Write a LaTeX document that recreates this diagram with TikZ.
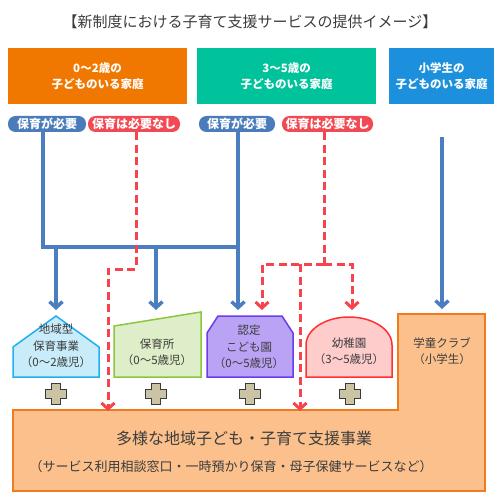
\documentclass[tikz,border=0pt]{standalone}
\usepackage{fontspec}
\setmainfont{Noto Sans CJK JP}
\usetikzlibrary{arrows.meta}

\definecolor{famorange}{RGB}{240,120,0}
\definecolor{famteal}{RGB}{0,195,155}
\definecolor{famblue}{RGB}{28,144,220}
\definecolor{pillblue}{RGB}{74,124,188}
\definecolor{pillred}{RGB}{242,74,84}
\definecolor{lineblue}{RGB}{74,126,192}
\definecolor{linered}{RGB}{245,68,78}
\definecolor{textgray}{RGB}{60,60,60}
\definecolor{houseline}{RGB}{32,176,240}
\definecolor{housefill}{RGB}{200,236,250}
\definecolor{nurseline}{RGB}{140,198,63}
\definecolor{nursefill}{RGB}{222,238,200}
\definecolor{ninteiline}{RGB}{106,60,240}
\definecolor{ninteifill}{RGB}{186,162,245}
\definecolor{kinderline}{RGB}{255,48,48}
\definecolor{kinderfill}{RGB}{255,204,204}
\definecolor{shienline}{RGB}{240,124,30}
\definecolor{shienfill}{RGB}{251,192,140}
\definecolor{plusfill}{RGB}{202,196,164}
\definecolor{plusgray}{RGB}{58,58,58}

\begin{document}
\begin{tikzpicture}[x=1pt,y=-1pt]
      \tikzstyle{family} = [rectangle, minimum height=56pt, inner sep=0pt, text=white, font=\bfseries\fontsize{11.5}{15.5}\selectfont, align=center]
      \tikzstyle{pill} = [rectangle, rounded corners=7.5pt, minimum height=16pt, inner sep=0pt, text=white, font=\bfseries\fontsize{12}{13}\selectfont]
      \tikzstyle{sitetext} = [align=center, text=textgray, font=\fontsize{11.5}{16.5}\selectfont]
      \tikzstyle{blueline} = [draw=lineblue, line width=3.5pt]
      \tikzstyle{redline} = [draw=linered, line width=3pt, dash pattern=on 8pt off 4.5pt]
      \tikzstyle{arr} = [-{Straight Barb[length=6pt,width=13pt]}]
      \tikzstyle{facility} = [line width=1.5pt]
      \useasboundingbox (0,0) rectangle (500,502);
      % title
      \node (title) at (250,22) [text=textgray, font=\fontsize{15}{18}\selectfont] {【新制度における子育て支援サービスの提供イメージ】};
      % families
      \node (fam1) at (97.5,76) [family, fill=famorange, minimum width=179pt] {0～2歳の\\子どものいる家庭};
      \node (fam2) at (286.5,76) [family, fill=famteal, minimum width=179pt] {3～5歳の\\子どものいる家庭};
      \node (fam3) at (441.5,76) [family, fill=famblue, minimum width=105pt] {小学生の\\子どものいる家庭};
      % needs
      \node (need1) at (47,124) [pill, fill=pillblue, minimum width=78pt] {保育が必要};
      \node (noneed1) at (134,124) [pill, fill=pillred, minimum width=92pt] {保育は必要なし};
      \node (need2) at (237,124) [pill, fill=pillblue, minimum width=76pt] {保育が必要};
      \node (noneed2) at (327.5,124) [pill, fill=pillred, minimum width=91pt] {保育は必要なし};
      % support services
      \draw [facility, draw=shienline, fill=shienfill] (13,410) -- (398,410) -- (398,314) -- (485,314) -- (485,491) -- (13,491) -- cycle;
      \draw [facility, draw=houseline, fill=housefill] (13,377) -- (13,347) -- (56,316) -- (99,347) -- (99,377) -- cycle;
      \draw [facility, draw=nurseline, fill=nursefill] (114,377) -- (114,326) -- (201,312) -- (201,377) -- cycle;
      \draw [facility, draw=ninteiline, fill=ninteifill] (207,377) -- (207,333) -- (218,316) -- (282,316) -- (293,333) -- (293,377) -- cycle;
      \draw [facility, draw=kinderline, fill=kinderfill] (306,377) -- (306,345) arc[start angle=180, end angle=0, x radius=43pt, y radius=28pt] -- (392,377) -- cycle;
      \node (chiiki) at (56,346) [sitetext] {地域型\\保育事業\\（0～2歳児）};
      \node (hoikusho) at (157,352) [sitetext] {保育所\\（0～5歳児）};
      \node (nintei) at (249,347) [sitetext] {認定\\こども園\\（0～5歳児）};
      \node (youchien) at (349,351) [sitetext] {幼稚園\\（3～5歳児）};
      \node (gakudou) at (442,351) [sitetext] {学童クラブ\\（小学生）};
      \node (tayou) at (244,438) [text=textgray, font=\fontsize{16}{18}\selectfont] {多様な地域子ども・子育て支援事業};
      \node (tayousub) at (231,467) [text=textgray, font=\fontsize{13}{15}\selectfont] {（サービス利用相談窓口・一時預かり保育・母子保健サービスなど）};
      % plus signs
      \foreach \px in {56,156,250,350}
        \draw [fill=plusfill, draw=plusgray, line width=1.5pt, shift={(\px,394)}] (-4.5,-10.5) -- (4.5,-10.5) -- (4.5,-4.5) -- (10.5,-4.5) -- (10.5,4.5) -- (4.5,4.5) -- (4.5,10.5) -- (-4.5,10.5) -- (-4.5,4.5) -- (-10.5,4.5) -- (-10.5,-4.5) -- (-4.5,-4.5) -- cycle;
      % arrow ends
      \coordinate (j0) at (43,247);
      \coordinate (j1) at (238,247);
      \coordinate (chiikiIn) at (56,310);
      \coordinate (hoikushoIn) at (156,310);
      \coordinate (ninteiIn) at (238,310);
      \coordinate (r1) at (108,269);
      \coordinate (shienIn1) at (108,411);
      \coordinate (r2) at (324,264);
      \coordinate (ninteiR) at (262,310);
      \coordinate (shienIn2) at (300,411);
      \coordinate (youchienIn) at (352,310);
      \coordinate (c3) at (442,137);
      \coordinate (gakudouIn) at (442,309);
      % need care
      \draw [blueline] (need1.south -| j0) -- (j0) -- (j1);
      \draw [blueline, arr] (need2.south -| j1) -- (ninteiIn);
      \draw [blueline, arr] (chiikiIn |- j0) -- (chiikiIn);
      \draw [blueline, arr] (hoikushoIn |- j0) -- (hoikushoIn);
      \draw [blueline, arr] (c3) -- (gakudouIn);
      % no need
      \draw [redline, arr] (noneed1.south -| 136,0) |- (r1) -- (shienIn1);
      \draw [redline] (noneed2.south -| r2) -- (r2);
      \draw [redline, arr] (r2) -| (ninteiR);
      \draw [redline, arr] (r2) -| (youchienIn);
      \draw [redline, arr] (r2 -| shienIn2) -- (shienIn2);
\end{tikzpicture}
\end{document}
